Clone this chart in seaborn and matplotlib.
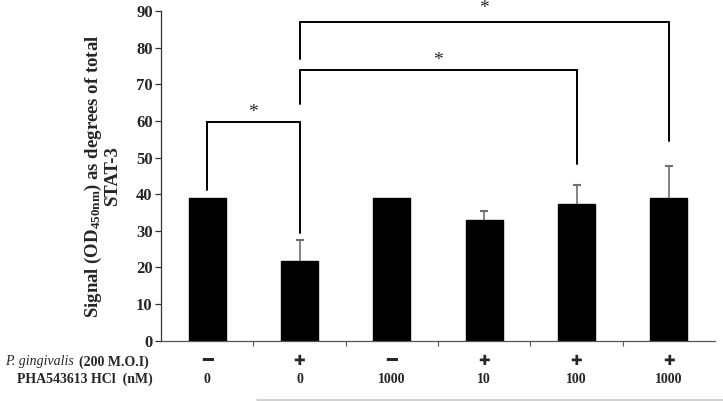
import matplotlib
matplotlib.use("Agg")
import matplotlib.pyplot as plt
import seaborn as sns
import pandas as pd
import numpy as np
from matplotlib.lines import Line2D
from matplotlib.transforms import offset_copy

# ---- data ----
groups = ["G1", "G2", "G3", "G4", "G5", "G6"]
signal = [38.9, 21.7, 38.9, 33.0, 37.2, 38.9]
err_up = [0.0, 5.8, 0.0, 2.3, 5.2, 8.8]
pg_row = ["━", "✚", "━", "✚", "✚", "✚"]
pha_row = ["0", "0", "1000", "10", "100", "1000"]
yticks = [0, 10, 20, 30, 40, 50, 60, 70, 80, 90]

# significance brackets: (left group, right group, bar height, left leg bottom, right leg bottom)
brk_left = [0, 1, 1]
brk_right = [1, 4, 5]
brk_height = [59.8, 73.9, 87.1]
brk_left_bottom = [41.1, 64.5, 77.0]
brk_right_bottom = [29.5, 48.2, 54.5]
star_height = [62.3, 76.6, 90.6]

sns.set_style("white")
plt.rcParams['font.family'] = ['Liberation Serif', 'DejaVu Serif']
plt.rcParams['mathtext.fontset'] = 'custom'
plt.rcParams['mathtext.rm'] = 'Liberation Serif:bold'
plt.rcParams['mathtext.bf'] = 'Liberation Serif:bold'
plt.rcParams['mathtext.it'] = 'Liberation Serif:italic'

df = pd.DataFrame({"group": groups, "signal": signal})

fig = plt.figure(figsize=(7.23, 4.01), dpi=100)
ax = fig.add_axes([161/723, 1-340.7/401, (715-161)/723, (340.7-11)/401])

sns.barplot(data=df, x="group", y="signal", order=groups, color="black",
            width=0.4, errorbar=None, ax=ax, saturation=1, edgecolor="black")

xpos = np.arange(len(groups))
sel = [i for i in range(len(groups)) if err_up[i] > 0]
eb = ax.errorbar(xpos[sel], [signal[i] for i in sel],
                 yerr=[np.zeros(len(sel)), [err_up[i] for i in sel]], fmt="none",
                 ecolor="#6e6e6e", elinewidth=1.2, capsize=3, capthick=1.5)
caplines = eb.lines[1]
if len(caplines) == 2:
    caplines[0].set_visible(False)
    caplines[1].set_color("#333333")

ax.set_xlim(-0.5, len(groups) - 0.5)
ax.set_ylim(0, 90)
ax.set_yticks(yticks)
ax.set_yticklabels([str(t) for t in yticks], fontsize=12, fontweight="bold")
ax.set_xticks(xpos[:-1] + 0.5)
ax.set_xticklabels([])
ax.tick_params(axis="y", direction="out", length=4, width=0.9, left=True, color="#333333", pad=2)
ax.tick_params(axis="x", direction="out", length=3.5, width=0.8, bottom=True, color="#555555")
ax.set_xlabel("")
ax.set_ylabel("Signal (OD$_{\\mathbf{450nm}}$) as degrees of total\nSTAT-3",
              fontsize=13.5, fontweight="bold", labelpad=11, linespacing=0.95)
for s in ["top", "right"]:
    ax.spines[s].set_visible(False)
ax.spines["left"].set_color("#333333")
ax.spines["bottom"].set_color("#555555")
ax.spines["left"].set_linewidth(0.9)
ax.spines["bottom"].set_linewidth(0.9)

# brackets
for l, r, h, lb, rb, sh in zip(brk_left, brk_right, brk_height, brk_left_bottom,
                               brk_right_bottom, star_height):
    ax.plot([xpos[l], xpos[l], xpos[r], xpos[r]], [lb, h, h, rb],
            color="black", lw=1.4, clip_on=False, solid_joinstyle="miter")
    ax.text((xpos[l] + xpos[r]) / 2, sh, "*", ha="center", va="center",
            fontsize=14, clip_on=False)

# condition rows
trans = ax.get_xaxis_transform()
for i in range(len(groups)):
    sym = pg_row[i]
    if sym == "✚":
        ax.text(xpos[i], -0.062, sym, transform=trans, ha="center", va="center",
                fontsize=10, family="DejaVu Sans", fontweight="bold")
    else:
        ax.text(xpos[i], -0.062, sym, transform=trans, ha="center", va="center",
                fontsize=13, family="DejaVu Sans Mono")
    ax.text(xpos[i], -0.117, pha_row[i], transform=trans, ha="center", va="center",
            fontsize=10, fontweight="bold")

t_bold = ax.text(-0.022, -0.064, "(200 M.O.I)", transform=ax.transAxes,
                 ha="right", va="center", fontsize=10, fontweight="bold")
renderer = fig.canvas.get_renderer()
bb = t_bold.get_window_extent(renderer=renderer)
x_left_ax = ax.transAxes.inverted().transform((bb.x0, bb.y0))[0]
ax.text(x_left_ax, -0.064, "P. gingivalis", transform=offset_copy(ax.transAxes, fig=fig, x=-5, units="dots"),
        ha="right", va="center", fontsize=10, style="italic")
ax.text(-0.014, -0.117, "PHA543613 HCl  (nM)", transform=ax.transAxes,
        ha="right", va="center", fontsize=10, fontweight="bold")

# faint bottom rule
fig.add_artist(Line2D([257/723, 1.0], [1-399.5/401, 1-399.5/401], color="#c8c8c8", lw=1.2,
                      transform=fig.transFigure))

fig.savefig("out.png", dpi=100)
